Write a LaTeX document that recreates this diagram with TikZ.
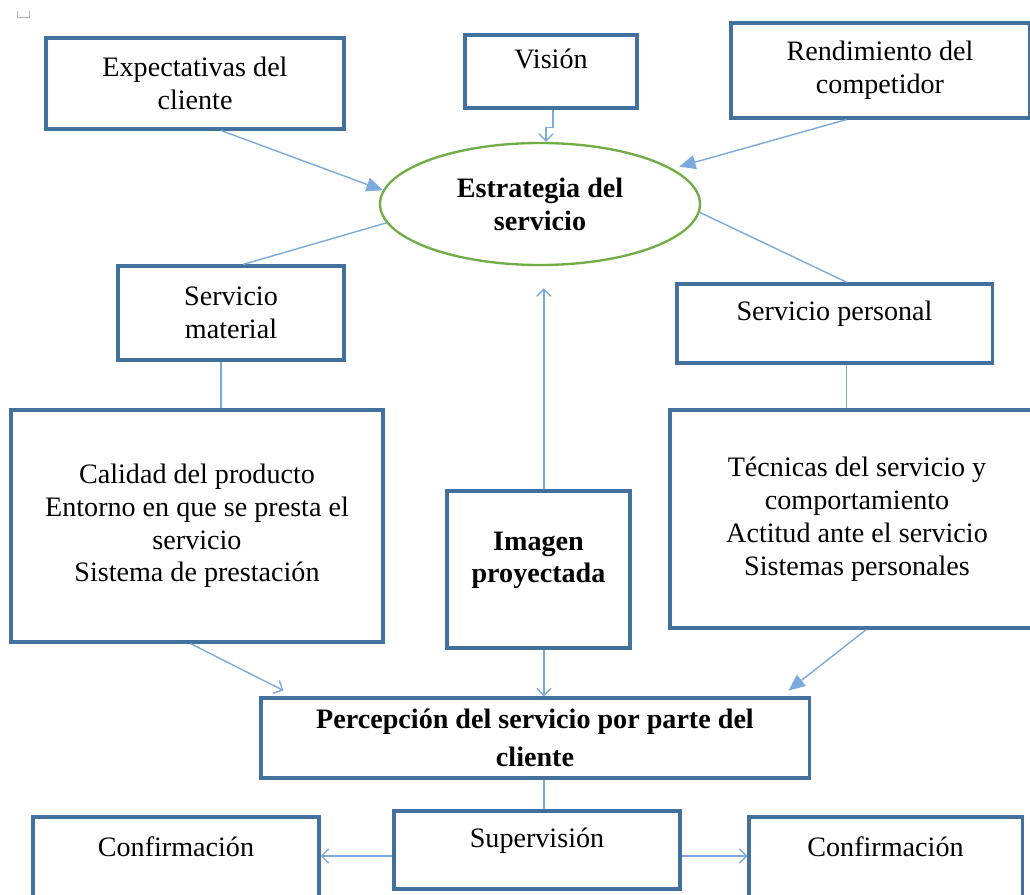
\documentclass[tikz,border=0pt]{standalone}
\usepackage{fontspec}
\setmainfont{Liberation Serif}
\usetikzlibrary{shapes.geometric,arrows.meta,calc}
\definecolor{boxblue}{RGB}{65,113,156}
\definecolor{linkblue}{RGB}{124,170,220}
\definecolor{ovalgreen}{RGB}{112,173,71}

\begin{document}
\begin{tikzpicture}[x=0.015cm, y=0.015cm,
        font=\fontsize{12}{14}\selectfont,
        >={Straight Barb[length=3pt,width=6pt]},
        tri/.style={-{Triangle[length=7pt,width=6pt]}},
        lifted/.style={text depth=10.5pt}]
        \useasboundingbox (0,0) rectangle (1030,-894);
        \fill[white] (0,0) rectangle (1030,-894);
        \clip (0,0) rectangle (1030,-894);
        \draw[gray!60, thin] (17,-11) -- (17,-17) -- (29,-17) -- (29,-11);

        \begin{scope}[every node/.style={rectangle,draw=boxblue,line width=1.3pt,align=center,inner sep=2pt}]
            \node (Exp) [minimum width=4.47cm, minimum height=1.365cm] at (195,-83.5) {Expectativas del\\cliente};
            \node (Vis) [lifted, minimum width=2.58cm, minimum height=1.095cm] at (551,-71.5) {Visión};
            \node (Ren) [minimum width=4.47cm, minimum height=1.425cm] at (880,-70.5) {Rendimiento del\\competidor};
            \node (Est) [ellipse, draw=ovalgreen, line width=1pt, font=\fontsize{12}{14}\selectfont\bfseries,
                         minimum width=4.8cm, minimum height=1.83cm] at (540,-204) {Estrategia del\\servicio};
            \node (SerM) [minimum width=3.39cm, minimum height=1.41cm] at (231,-313) {Servicio\\material};
            \node (SerP) [lifted, minimum width=4.725cm, minimum height=1.185cm] at (834.5,-323.5) {Servicio personal};
            \node (Cal) [minimum width=5.58cm, minimum height=3.48cm] at (197,-526)
                {Calidad del producto\\Entorno en que se presta el\\servicio\\Sistema de prestación};
            \node (Img) [lifted, font=\fontsize{12}{14}\selectfont\bfseries,
                         minimum width=2.745cm, minimum height=2.355cm] at (538.5,-569.5) {Imagen\\proyectada};
            \node (Tec) [minimum width=5.61cm, minimum height=3.27cm] at (857,-519)
                {Técnicas del servicio y\\comportamiento\\Actitud ante el servicio\\Sistemas personales};
            \node (Per) [font=\fontsize{12}{16.2}\selectfont\bfseries,
                         minimum width=8.22cm, minimum height=1.2cm] at (535,-738) {Percepción del servicio por parte del\\cliente};
            \node (Sup) [lifted, minimum width=4.29cm, minimum height=1.17cm] at (537,-850) {Supervisión};
            \node (ConL) [lifted, minimum width=4.29cm, minimum height=1.245cm] at (176,-858.5) {Confirmación};
            \node (ConR) [lifted, minimum width=4.095cm, minimum height=1.245cm] at (885.5,-858.5) {Confirmación};
        \end{scope}

        \coordinate (m1) at ([xshift=-0.15cm]SerM.south);
        \coordinate (p1) at ([xshift=0.18cm]SerP.south);
        \coordinate (i1) at ([xshift=0.08cm]Img.north);
        \coordinate (i2) at ([xshift=0.08cm]Img.south);
        \coordinate (c1) at ([xshift=0.135cm]Per.south);
        \coordinate (s1) at ([yshift=-0.09cm]Sup.west);
        \coordinate (s2) at ([yshift=-0.09cm]Sup.east);

        \begin{scope}[every path/.style={draw=linkblue,line width=0.6pt}]
            \draw [tri] ([xshift=0.39cm]Exp.south) -- (Est.175);
            \draw [->] ([xshift=0.03cm]Vis.south) -- ++(0,-18) -| ([xshift=0.09cm]Est.north);
            \draw [tri, shorten >=3pt] ([xshift=-0.5cm]Ren.south) -- (Est.15);
            \draw (Est.187) -- ([xshift=0.18cm]SerM.north);
            \draw (Est.-3) -- ([xshift=0.19cm]SerP.north);
            \draw (m1) -- (m1 |- Cal.north);
            \draw (p1) -- (p1 |- Tec.north);
            \draw [->] (i1) -- ($(i1 |- Est.south)+(0,-22)$);
            \draw [->] ([xshift=-0.1cm]Cal.south) -- ($(Per.north west)+(24,6)$);
            \draw [->] (i2) -- (i2 |- Per.north);
            \draw [tri] ([xshift=0.14cm]Tec.south) -- ($(Per.north east)+(-22,6)$);
            \draw (c1) -- (c1 |- Sup.north);
            \draw [->] (s1) -- (s1 -| ConL.east);
            \draw [->] (s2) -- (s2 -| ConR.west);
        \end{scope}
\end{tikzpicture}
\end{document}
